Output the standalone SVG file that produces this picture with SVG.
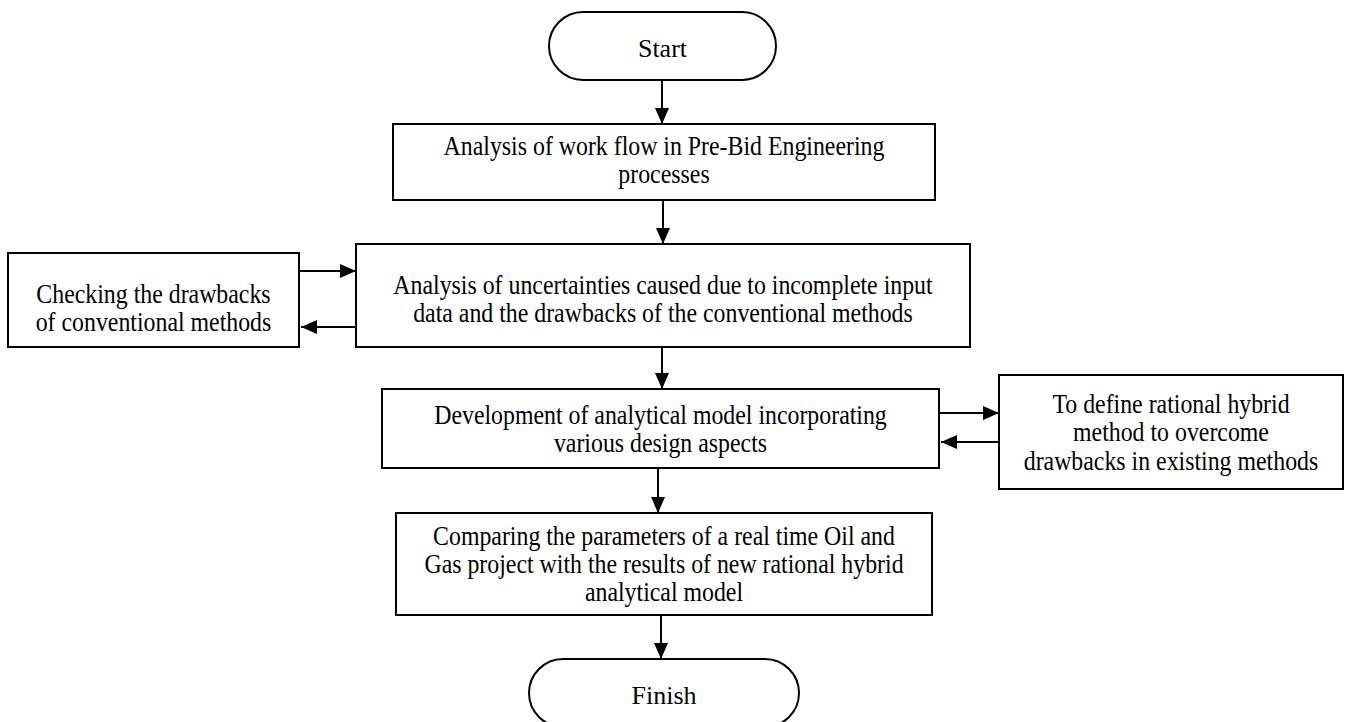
<svg xmlns="http://www.w3.org/2000/svg" width="1346" height="722" viewBox="0 0 1346 722">
  <style>
    .box { fill: #ffffff; stroke: #000000; stroke-width: 2; }
    .lbl { font-family: "Liberation Serif", "Times New Roman", serif; font-size: 26.5px; fill: #000000; text-anchor: middle; }
    .term { font-size: 26px; }
    .conn { stroke: #000000; stroke-width: 2; fill: none; marker-end: url(#arrow); }
  </style>
  <defs>
    <marker id="arrow" viewBox="0 0 16 14" refX="16" refY="7" markerWidth="16" markerHeight="14" markerUnits="userSpaceOnUse" orient="auto">
      <path d="M0,0 L16,7 L0,14 Z" fill="#000000"/>
    </marker>
  </defs>
  <rect width="1346" height="722" fill="#ffffff"/>

  <g id="start">
    <rect class="box" x="549" y="12" width="227" height="68" rx="34" ry="34"/>
    <text class="lbl term" x="662.5" y="57">Start</text>
  </g>

  <!-- process labels use a slightly narrowed serif face -->
  <g id="workflow">
    <rect class="box" x="393" y="124" width="542" height="76"/>
    <g transform="translate(664,0) scale(0.9,1) translate(-664,0)">
      <text class="lbl" x="664" y="155">Analysis of work flow in Pre-Bid Engineering</text>
      <text class="lbl" x="664" y="183">processes</text>
    </g>
  </g>

  <g id="uncertainties">
    <rect class="box" x="356" y="244" width="614" height="103"/>
    <g transform="translate(663,0) scale(0.9,1) translate(-663,0)">
      <text class="lbl" x="663" y="294">Analysis of uncertainties caused due to incomplete input</text>
      <text class="lbl" x="663" y="322">data and the drawbacks of the conventional methods</text>
    </g>
  </g>

  <g id="checking">
    <rect class="box" x="8" y="253" width="291" height="94"/>
    <g transform="translate(153.5,0) scale(0.9,1) translate(-153.5,0)">
      <text class="lbl" x="153.5" y="303">Checking the drawbacks</text>
      <text class="lbl" x="153.5" y="331">of conventional methods</text>
    </g>
  </g>

  <g id="model">
    <rect class="box" x="382" y="389" width="557" height="79"/>
    <g transform="translate(660.5,0) scale(0.9,1) translate(-660.5,0)">
      <text class="lbl" x="660.5" y="424">Development of analytical model incorporating</text>
      <text class="lbl" x="660.5" y="452">various design aspects</text>
    </g>
  </g>

  <g id="hybrid">
    <rect class="box" x="999" y="375" width="344" height="114"/>
    <g transform="translate(1171,0) scale(0.9,1) translate(-1171,0)">
      <text class="lbl" x="1171" y="413">To define rational hybrid</text>
      <text class="lbl" x="1171" y="441.5">method to overcome</text>
      <text class="lbl" x="1171" y="470">drawbacks in existing methods</text>
    </g>
  </g>

  <g id="comparing">
    <rect class="box" x="396" y="513" width="536" height="102"/>
    <g transform="translate(664,0) scale(0.9,1) translate(-664,0)">
      <text class="lbl" x="664" y="545">Comparing the parameters of a real time Oil and</text>
      <text class="lbl" x="664" y="573">Gas project with the results of new rational hybrid</text>
      <text class="lbl" x="664" y="601">analytical model</text>
    </g>
  </g>

  <g id="finish">
    <rect class="box" x="529" y="659" width="270" height="68" rx="34" ry="34"/>
    <text class="lbl term" x="664" y="704">Finish</text>
  </g>

  <g id="connectors">
    <line class="conn" x1="662" y1="80" x2="662" y2="124"/>
    <line class="conn" x1="663" y1="200" x2="663" y2="244"/>
    <line class="conn" x1="662" y1="347" x2="662" y2="389"/>
    <line class="conn" x1="658" y1="468" x2="658" y2="513"/>
    <line class="conn" x1="661" y1="615" x2="661" y2="659"/>
    <line class="conn" x1="299" y1="271" x2="356" y2="271"/>
    <line class="conn" x1="356" y1="327" x2="301" y2="327"/>
    <line class="conn" x1="939" y1="413" x2="999" y2="413"/>
    <line class="conn" x1="999" y1="442" x2="941" y2="442"/>
  </g>
</svg>
